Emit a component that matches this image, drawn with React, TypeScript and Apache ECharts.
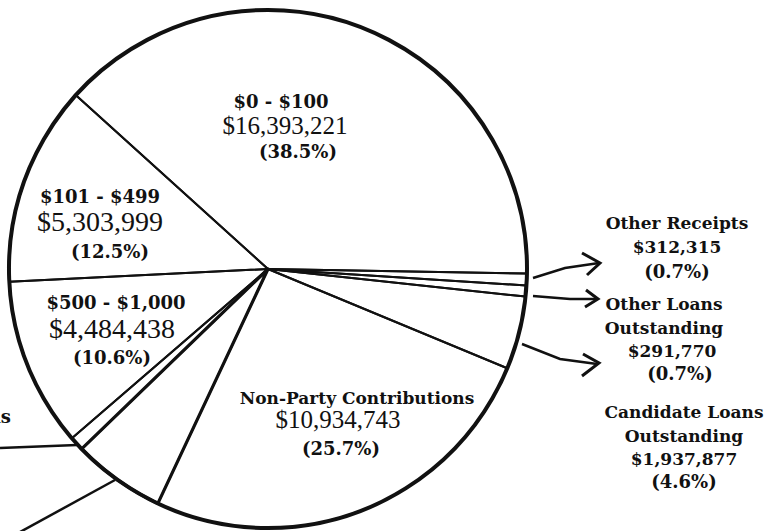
import React, { useEffect, useRef } from "react";
import * as echarts from "echarts";

// ---- data ----
const CATEGORIES = [
  "$0 - $100",
  "$101 - $499",
  "$500 - $1,000",
  "Party Contributions",
  "Candidate Contributions",
  "Non-Party Contributions",
  "Candidate Loans\nOutstanding",
  "Other Loans\nOutstanding",
  "Other Receipts",
];
const VALUES = [16393221, 5303999, 4484438, 380000, 2460000, 10934743, 1937877, 291770, 312315];
const PERCENT_LABELS = ["38.5%", "12.5%", "10.6%", "0.9%", "5.8%", "25.7%", "4.6%", "0.7%", "0.7%"];

// ---- layout / styling (kept apart from data) ----
const CX = 268;
const CY = 269;
const R = 259;
const LABEL_POS: (number[] | null)[] = [
  [285, 127],
  [100, 226],
  [112, 331],
  [11, 416],
  null,
  [357, 427],
  [684, 446],
  [664, 338],
  [677, 247],
];
const OUTER = [6, 7, 8];
type LS = { tSize: number; vSize: number; lt: number; lv: number; lp: number; padT: number[]; padV: number[]; padP: number[] };
const LS_ALL: LS[] = [
  { tSize: 18, vSize: 25, lt: 23, lv: 25, lp: 26, padT: [0, 8, 0, 0], padV: [0, 0, 0, 0], padP: [0, 0, 0, 26] },
  { tSize: 18, vSize: 28, lt: 22, lv: 28, lp: 31, padT: [0, 0, 0, 0], padV: [0, 0, 0, 0], padP: [0, 0, 0, 20] },
  { tSize: 18, vSize: 28, lt: 24, lv: 28, lp: 30, padT: [0, 0, 0, 8], padV: [0, 0, 0, 0], padP: [0, 0, 0, 0] },
  { tSize: 18, vSize: 18, lt: 24, lv: 24, lp: 24, padT: [0, 0, 0, 0], padV: [0, 0, 0, 0], padP: [0, 0, 0, 0] },
  { tSize: 18, vSize: 18, lt: 24, lv: 24, lp: 24, padT: [0, 0, 0, 0], padV: [0, 0, 0, 0], padP: [0, 0, 0, 0] },
  { tSize: 17, vSize: 25, lt: 18, lv: 25, lp: 34, padT: [0, 0, 0, 0], padV: [0, 38, 0, 0], padP: [0, 32, 0, 0] },
  { tSize: 17, vSize: 17, lt: 24, lv: 23, lp: 22, padT: [0, 0, 0, 0], padV: [0, 0, 0, 0], padP: [0, 0, 0, 0] },
  { tSize: 17, vSize: 17, lt: 24, lv: 23, lp: 22, padT: [0, 0, 0, 0], padV: [0, 0, 0, 16], padP: [0, 0, 0, 32] },
  { tSize: 17, vSize: 17, lt: 24, lv: 24, lp: 24, padT: [0, 0, 0, 0], padV: [0, 0, 0, 0], padP: [0, 0, 0, 0] },
];

const BOLD = "'DejaVu Serif', 'Liberation Serif', serif";
const REG = "'Liberation Serif', 'DejaVu Serif', serif";

function buildRich() {
  const rich: Record<string, any> = {};
  LS_ALL.forEach((s, i) => {
    const outer = OUTER.includes(i);
    rich["t" + i] = { fontFamily: BOLD, fontWeight: "bold", fontSize: s.tSize, lineHeight: s.lt, color: "#111", padding: s.padT };
    rich["v" + i] = outer
      ? { fontFamily: BOLD, fontWeight: "bold", fontSize: s.vSize, lineHeight: s.lv, color: "#111", padding: s.padV }
      : { fontFamily: REG, fontWeight: "normal", fontSize: s.vSize, lineHeight: s.lv, color: "#111", padding: s.padV };
    rich["p" + i] = { fontFamily: BOLD, fontWeight: "bold", fontSize: 18, lineHeight: s.lp, color: "#111", padding: s.padP };
  });
  return rich;
}

const arrow = (shaft: number[][], head: number[][]) => [
  { type: "polyline", shape: { points: shaft }, style: { stroke: "#111", lineWidth: 2.5, fill: null }, z: 10 },
  { type: "polyline", shape: { points: head }, style: { stroke: "#111", lineWidth: 3, fill: null, lineJoin: "miter" }, z: 10 },
];

export default function App() {
  const ref = useRef<HTMLDivElement>(null);
  useEffect(() => {
    if (!ref.current) return;
    const chart = echarts.init(ref.current, undefined, { renderer: "svg" });
    const data = CATEGORIES.map((name, i) => ({
      name,
      value: VALUES[i],
      label: i === 4 ? { show: false } : undefined,
      itemStyle: i === 4 ? { borderWidth: 3.2 } : undefined,
    }));
    chart.setOption({
      animation: false,
      backgroundColor: "#ffffff",
      series: [
        {
          type: "pie",
          center: [CX, CY],
          radius: R,
          clockwise: false,
          startAngle: -1,
          avoidLabelOverlap: false,
          silent: true,
          itemStyle: { color: "rgba(0,0,0,0)", borderColor: "#111", borderWidth: 2 },
          labelLine: { show: false },
          label: {
            show: true,
            position: "inside",
            overflow: "none",
            color: "#111",
            rich: buildRich(),
            formatter: (p: any) => {
              const i = p.dataIndex;
              const name = CATEGORIES[i];
              if (i === 3) return `{t3|${name}}`;
              const lines = name.split("\n").map((l) => `{t${i}|${l}}`);
              lines.push(`{v${i}|$${VALUES[i].toLocaleString("en-US")}}`);
              lines.push(`{p${i}|(${PERCENT_LABELS[i]})}`);
              return lines.join("\n");
            },
          },
          labelLayout: (p: any) => {
            const pos = LABEL_POS[p.dataIndex];
            if (!pos) return {};
            return { x: pos[0], y: pos[1], align: p.dataIndex === 3 ? "right" : "center", verticalAlign: "middle" };
          },
          data,
        },
        {
          type: "pie",
          center: [CX, CY],
          radius: R,
          silent: true,
          label: { show: false },
          labelLine: { show: false },
          itemStyle: { color: "rgba(0,0,0,0)", borderColor: "#111", borderWidth: 4 },
          data: [{ value: 1, name: "outline" }],
          z: 3,
        },
      ],
      graphic: [
        ...arrow([[533, 278], [565, 268], [599, 263]], [[582, 253], [600, 263], [587, 275]]),
        ...arrow([[533, 296], [570, 299], [597, 299]], [[586, 290], [598, 299], [585, 307]]),
        ...arrow([[522, 344], [560, 359], [597, 364]], [[583, 354], [599, 363], [582, 376]]),
        { type: "polyline", shape: { points: [[0, 448], [77, 445]] }, style: { stroke: "#111", lineWidth: 2.5, fill: null } },
        { type: "polyline", shape: { points: [[115, 480], [0, 543]] }, style: { stroke: "#111", lineWidth: 2.5, fill: null } },
      ],
    });
    return () => chart.dispose();
  }, []);
  return <div ref={ref} style={{ position: "absolute", left: 0, top: 0, width: 766, height: 531 }} />;
}
